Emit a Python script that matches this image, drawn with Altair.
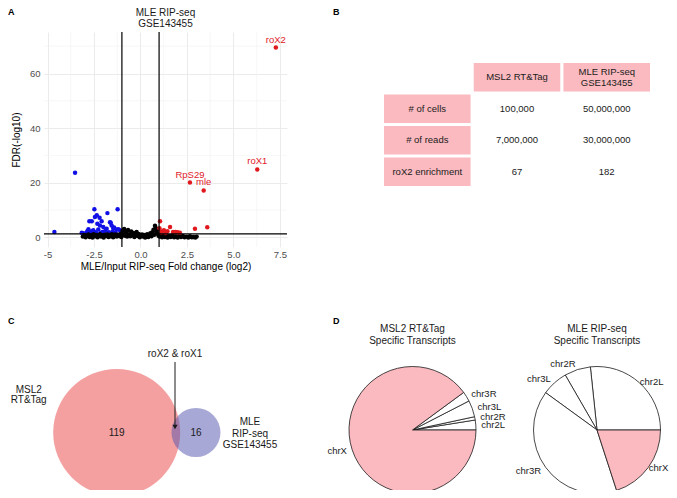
import math
import altair as alt
import pandas as pd

# ---------------- Panel A: volcano plot data ----------------
black_fc = [-3.10, -3.02, -2.95, -2.88, -2.80, -2.73, -2.66, -2.58, -2.52, -2.45,
            -2.38, -2.31, -2.25, -2.18, -2.12, -2.05, -1.98, -1.92, -1.85, -1.79,
            -1.72, -1.66, -1.60, -1.54, -1.47, -1.41, -1.35, -1.28, -1.22, -1.15,
            -1.09, -1.03, -0.97, -0.92, -0.88, -0.83, -0.78, -0.72, -0.67, -0.61,
            -0.55, -0.50, -0.44, -0.38, -0.33, -0.27, -0.21, -0.15, -0.10, -0.04,
            0.02, 0.08, 0.13, 0.19, 0.25, 0.31, 0.36, 0.42, 0.48, 0.53,
            0.59, 0.64, 0.70, 0.74, 0.78, 0.82, 0.86, 0.90, 0.94, 0.97,
            1.03, 1.09, 1.16, 1.23, 1.31, 1.38, 1.46, 1.55, 1.63, 1.72,
            1.81, 1.90, 2.00, 2.09, 2.18, 2.28, 2.37, 2.47, 2.57, 2.66,
            2.76, 2.85, 2.95, 3.02]
black_fdr = [0.3, 0.8, 0.1, 0.5, 1.1, 0.2, 0.7, 0.0, 1.2, 0.4,
             0.9, 0.1, 0.6, 1.2, 0.3, 0.8, 0.0, 1.0, 0.5, 1.1,
             0.2, 0.9, 0.4, 1.2, 0.1, 0.7, 1.1, 0.3, 1.0, 0.5,
             1.2, 0.2, 2.4, 1.1, 3.1, 0.6, 1.9, 0.3, 2.7, 1.2,
             0.4, 2.2, 0.9, 1.6, 0.2, 1.0, 2.0, 0.5, 1.3, 0.1,
             0.7, 1.1, 0.3, 0.9, 0.0, 0.6, 1.2, 0.2, 0.8, 1.5,
             0.4, 1.9, 2.8, 1.0, 4.3, 3.5, 2.2, 1.4, 3.0, 0.6,
             0.3, 0.9, 0.1, 0.6, 0.2, 0.8, 0.0, 0.5, 0.2, 0.7,
             0.1, 0.4, 0.0, 0.6, 0.2, 0.5, 0.1, 0.3, 0.0, 0.4,
             0.1, 0.2, 0.0, 0.3]
blue_fc = [-4.63, -3.52, -3.16, -3.08, -2.80, -2.75, -2.72, -2.62, -2.54, -2.48,
           -2.45, -2.35, -2.32, -2.27, -2.20, -2.18, -2.09, -2.05, -2.00, -1.90,
           -1.82, -1.78, -1.64, -1.60, -1.55, -1.50, -1.46, -1.42, -1.35, -1.28,
           -1.23, -1.19, -1.10, -1.05, -2.90, -2.65, -2.40, -2.15, -1.70, -2.60,
           -2.85]
blue_fdr = [2.0, 23.7, 1.7, 1.5, 3.0, 5.9, 2.1, 5.9, 2.6, 10.3,
            7.5, 8.1, 5.0, 2.9, 7.2, 4.4, 5.9, 2.0, 3.8, 2.4,
            3.2, 8.9, 5.6, 5.4, 4.4, 2.2, 3.4, 3.6, 1.8, 2.9,
            10.3, 3.0, 2.6, 1.6, 1.8, 1.6, 1.9, 1.6, 1.9, 2.3,
            2.4]
red_fc = [7.28, 6.28, 2.66, 3.40, 1.05, 1.59, 2.93, 3.59, 1.14, 1.26,
          1.12, 1.35, 1.75, 1.88, 2.00, 2.12, 1.45, 1.02]
red_fdr = [69.5, 24.9, 20.1, 17.2, 5.9, 3.8, 3.2, 3.7, 2.2, 2.6,
           1.8, 1.6, 2.0, 2.0, 1.9, 1.75, 2.3, 3.4]
red_labels = ["roX2", "roX1", "RpS29", "mle", "", "", "", "", "", "",
              "", "", "", "", "", "", "", ""]
scatter_title = ["MLE RIP-seq", "GSE143455"]
x_title = "MLE/Input RIP-seq Fold change (log2)"
y_title = "FDR(-log10)"
x_ticks = [-5, -2.5, 0, 2.5, 5, 7.5]
x_tick_labels = ["-5", "-2.5", "0.0", "2.5", "5.0", "7.5"]
x_minor = [-3.75, -1.25, 1.25, 3.75, 6.25]
y_ticks = [0, 20, 40, 60]
y_minor = [10, 30, 50, 70]
fc_cutoffs = [-1, 1]
fdr_cutoff = [1.3]

# ---------------- Panel B: table data ----------------
table_header = ["MSL2 RT&Tag", "MLE RIP-seq\nGSE143455"]
row_labels = ["# of cells", "# of reads", "roX2 enrichment"]
msl2_values = ["100,000", "7,000,000", "67"]
mle_values = ["50,000,000", "30,000,000", "182"]

# ---------------- Panel C: Venn data ----------------
venn_sets = ["MSL2\nRT&Tag", "MLE\nRIP-seq\nGSE143455"]
venn_unique = [119, 16]
venn_shared = 2
venn_shared_label = "roX2 & roX1"

# ---------------- Panel D: pie data ----------------
chroms = ["chr2L", "chr2R", "chr3L", "chr3R", "chrX"]
msl2_counts = [3, 1, 5, 3, 107]
mle_counts = [4, 1, 1, 6, 3]
pie_titles = ["MSL2 RT&Tag\nSpecific Transcripts", "MLE RIP-seq\nSpecific Transcripts"]

panel_letters = ["A", "B", "C", "D"]

PINK = "#FBBAC0"
RED = "#E0191F"
BLUE = "#1010E6"
INK = "#1A1A1A"


def letter(ch, x, y):
    return alt.Chart(pd.DataFrame({"t": [ch]})).mark_text(
        fontWeight="bold", fontSize=9, align="left", baseline="top", color="black"
    ).encode(text="t:N", x=alt.value(x), y=alt.value(y))


# layout (pixels)
COL1_W, COL2_W = 243, 323
ROW1_H, ROW2_H = 215, 124

# ================= Panel A =================
xs = alt.Scale(domain=[-5.19, 7.88], nice=False, zero=False)
ys = alt.Scale(domain=[-3.5, 75.2], nice=False, zero=False)
label_expr = "".join(
    f"datum.value == {v} ? '{l}' : " for v, l in zip(x_ticks, x_tick_labels)
) + "''"

black_df = pd.DataFrame({"fc": black_fc, "fdr": black_fdr})
blue_df = pd.DataFrame({"fc": blue_fc, "fdr": blue_fdr})
red_df = pd.DataFrame({"fc": red_fc, "fdr": red_fdr, "lab": red_labels})

x_axis = alt.Axis(values=x_ticks, labelExpr=label_expr, title=x_title, grid=True,
                  gridColor="#EBEBEB", gridWidth=1, domain=False, ticks=False,
                  labelColor="#4D4D4D", labelFontSize=9.5, labelPadding=2,
                  labelFlush=False, labelOverlap=False, titleFontSize=10,
                  titleFontWeight="normal", titleColor="black", titlePadding=3)
y_axis = alt.Axis(values=y_ticks, title=y_title, grid=True, gridColor="#EBEBEB",
                  gridWidth=1, domain=False, ticks=False, labelColor="#4D4D4D",
                  labelFontSize=9.5, labelPadding=4, labelFlush=False,
                  titleFontSize=10, titleFontWeight="normal", titleColor="black",
                  titlePadding=8)

blue_pts = alt.Chart(blue_df).mark_circle(size=20, opacity=1, color=BLUE).encode(
    x=alt.X("fc:Q", scale=xs, axis=x_axis),
    y=alt.Y("fdr:Q", scale=ys, axis=y_axis),
)
minor_x = alt.Chart(pd.DataFrame({"v": x_minor})).mark_rule(
    color="#F1F1F1", strokeWidth=0.6).encode(x=alt.X("v:Q", scale=xs))
minor_y = alt.Chart(pd.DataFrame({"v": y_minor})).mark_rule(
    color="#F1F1F1", strokeWidth=0.6).encode(y=alt.Y("v:Q", scale=ys))
black_pts = alt.Chart(black_df).mark_circle(size=20, opacity=1, color="black").encode(
    x=alt.X("fc:Q", scale=xs), y=alt.Y("fdr:Q", scale=ys))
red_pts = alt.Chart(red_df).mark_circle(size=20, opacity=1, color=RED).encode(
    x=alt.X("fc:Q", scale=xs), y=alt.Y("fdr:Q", scale=ys))
red_text = alt.Chart(red_df).transform_filter("datum.lab != ''").mark_text(
    color=RED, fontSize=9.5, dy=-8).encode(
    x=alt.X("fc:Q", scale=xs), y=alt.Y("fdr:Q", scale=ys), text="lab:N")
vlines = alt.Chart(pd.DataFrame({"v": fc_cutoffs})).mark_rule(
    color="black", strokeWidth=1.2).encode(x=alt.X("v:Q", scale=xs))
hline = alt.Chart(pd.DataFrame({"v": fdr_cutoff})).mark_rule(
    color="black", strokeWidth=1.2).encode(y=alt.Y("v:Q", scale=ys))
a_title = alt.Chart(pd.DataFrame({"t": ["\n".join(scatter_title)]})).mark_text(
    fontSize=10, lineBreak="\n", lineHeight=10.5, baseline="top", color=INK).encode(
    text="t:N", x=alt.value(COL1_W / 2), y=alt.value(-24))

panelA = alt.layer(minor_x, minor_y, blue_pts, black_pts, red_pts, vlines, hline,
                   red_text, a_title, letter(panel_letters[0], -36, -24)).properties(
    width=COL1_W, height=ROW1_H)

# ================= Panel B =================
col_keys = ["label", "c1", "c2"]
row_keys = ["hdr", "r1", "r2", "r3"]
cells = []
cells.append({"col": "c1", "row": "hdr", "txt": table_header[0], "pink": 1})
cells.append({"col": "c2", "row": "hdr", "txt": table_header[1], "pink": 1})
for rk, lab, v1, v2 in zip(row_keys[1:], row_labels, msl2_values, mle_values):
    cells.append({"col": "label", "row": rk, "txt": lab, "pink": 1})
    cells.append({"col": "c1", "row": rk, "txt": v1, "pink": 0})
    cells.append({"col": "c2", "row": rk, "txt": v2, "pink": 0})
table_df = pd.DataFrame(cells)
table_df["lines"] = table_df["txt"].str.count("\n") + 1
bx = alt.Scale(domain=col_keys, range=[38, 304], paddingInner=0.035, paddingOuter=0)
by = alt.Scale(domain=row_keys, range=[31, 154], paddingInner=0.1, paddingOuter=0)
t_rect = alt.Chart(table_df).transform_filter("datum.pink == 1").mark_rect(
    color=PINK).encode(x=alt.X("col:N", scale=bx, axis=None),
                       y=alt.Y("row:N", scale=by, axis=None))
t_text1 = alt.Chart(table_df).transform_filter("datum.lines == 1").mark_text(
    fontSize=9.5, color=INK).encode(
    x=alt.X("col:N", scale=bx, axis=None), y=alt.Y("row:N", scale=by, axis=None),
    text="txt:N")
t_text2 = alt.Chart(table_df).transform_filter("datum.lines == 2").mark_text(
    fontSize=9.5, lineBreak="\n", lineHeight=11, dy=-5.5, color=INK).encode(
    x=alt.X("col:N", scale=bx, axis=None), y=alt.Y("row:N", scale=by, axis=None),
    text="txt:N")
panelB = alt.layer(t_rect, t_text1, t_text2,
                   letter(panel_letters[1], -13, -24)).properties(
    width=COL2_W, height=ROW1_H)

# ================= Panel C =================
venn_df = pd.DataFrame({"set": venn_sets,
                        "total": [u + venn_shared for u in venn_unique],
                        "unique": venn_unique,
                        "idx": [0, 1]})
VENN_Y = 66.5
vx = alt.Scale(type="point", domain=venn_sets, range=[72.7, 152], padding=0)
# symbol size = area of the bounding square, i.e. (2r)^2
vsize = alt.Scale(domain=[0, max(venn_df["total"])], range=[0, (2 * 63.5) ** 2])
venn_fill = ["#E94141", "#5151AD"]
circ_layers = []
for i, col in enumerate(venn_fill):
    circ_layers.append(
        alt.Chart(venn_df).transform_filter(f"datum.idx == {i}").mark_circle(
            opacity=0.5, color=col, clip=True).encode(
            x=alt.X("set:N", scale=vx, axis=None), y=alt.value(VENN_Y),
            size=alt.Size("total:Q", scale=vsize, legend=None)))
counts_txt = alt.Chart(venn_df).mark_text(fontSize=10, color=INK).encode(
    x=alt.X("set:N", scale=vx, axis=None), y=alt.value(VENN_Y), text="unique:Q")
set_lab0 = alt.Chart(venn_df).transform_filter("datum.idx == 0").mark_text(
    fontSize=10, lineBreak="\n", lineHeight=10.5, dx=-88, color=INK).encode(
    x=alt.X("set:N", scale=vx, axis=None), y=alt.value(23.5), text="set:N")
set_lab1 = alt.Chart(venn_df).transform_filter("datum.idx == 1").mark_text(
    fontSize=10, lineBreak="\n", lineHeight=11.7, dx=54, color=INK).encode(
    x=alt.X("set:N", scale=vx, axis=None), y=alt.value(56), text="set:N")
shared_df = pd.DataFrame({"t": [venn_shared_label]})
shared_txt = alt.Chart(shared_df).mark_text(fontSize=10, color=INK).encode(
    text="t:N", x=alt.value(131), y=alt.value(-12))
arrow_line = alt.Chart(shared_df).mark_rule(color=INK, strokeWidth=1).encode(
    x=alt.value(131), y=alt.value(-4), y2=alt.value(60))
arrow_head = alt.Chart(shared_df).mark_point(shape="triangle-down", filled=True,
                                             size=28, color=INK, opacity=1).encode(
    x=alt.value(131), y=alt.value(61))
panelC = alt.layer(*circ_layers, counts_txt, set_lab0, set_lab1, shared_txt,
                   arrow_line, arrow_head,
                   letter(panel_letters[2], -36, -49)).properties(
    width=COL1_W, height=ROW2_H)

# ================= Panel D (two pies in one view) =================
pie_rows = []
for p, (title, counts) in enumerate(zip(pie_titles, [msl2_counts, mle_counts])):
    total = sum(counts)
    cum = 0
    for c, n in zip(chroms, counts):
        start = cum / total
        cum += n
        end = cum / total
        mid = (start + end) / 2
        side = "right" if math.cos(2 * math.pi * mid) >= 0 else "left"
        pie_rows.append(dict(pie=title, pidx=p, chrom=c, n=n, start=start, end=end,
                             mid=mid, side=side))
pie_df = pd.DataFrame(pie_rows)
PIE_Y = 64
ts = alt.Scale(domain=[0, 1], range=[2.5 * math.pi, 0.5 * math.pi])
px = alt.Scale(type="point", domain=pie_titles, range=[66.5, 251], padding=0)
pbase = alt.Chart(pie_df)
arcs_white = pbase.transform_filter("datum.chrom != 'chrX'").mark_arc(
    outerRadius=63.5, stroke=INK, strokeWidth=0.8, fill="white", clip=True).encode(
    x=alt.X("pie:N", scale=px, axis=None), y=alt.value(PIE_Y),
    theta=alt.Theta("start:Q", scale=ts), theta2="end:Q")
arcs_x = pbase.transform_filter("datum.chrom == 'chrX'").mark_arc(
    outerRadius=63.5, stroke=INK, strokeWidth=0.8, fill=PINK, clip=True).encode(
    x=alt.X("pie:N", scale=px, axis=None), y=alt.value(PIE_Y),
    theta=alt.Theta("start:Q", scale=ts), theta2="end:Q")
lab_r1 = pbase.transform_filter("datum.side == 'right' && datum.pidx == 0").mark_text(
    radius=69, align="left", fontSize=9.5, color=INK).encode(
    x=alt.X("pie:N", scale=px, axis=None), y=alt.value(PIE_Y),
    theta=alt.Theta("mid:Q", scale=ts), text="chrom:N")
lab_r2 = pbase.transform_filter("datum.side == 'right' && datum.pidx == 1").mark_text(
    radius=64, align="left", fontSize=9.5, color=INK).encode(
    x=alt.X("pie:N", scale=px, axis=None), y=alt.value(PIE_Y),
    theta=alt.Theta("mid:Q", scale=ts), text="chrom:N")
lab_l = pbase.transform_filter("datum.side == 'left'").mark_text(
    radius=69, align="right", fontSize=9.5, color=INK).encode(
    x=alt.X("pie:N", scale=px, axis=None), y=alt.value(PIE_Y),
    theta=alt.Theta("mid:Q", scale=ts), text="chrom:N")
pie_ttl = alt.Chart(pd.DataFrame({"pie": pie_titles})).mark_text(
    fontSize=10, lineBreak="\n", lineHeight=12, color=INK).encode(
    x=alt.X("pie:N", scale=px, axis=None), text="pie:N", y=alt.value(-37))
panelD = alt.layer(arcs_white, arcs_x, lab_r1, lab_r2, lab_l, pie_ttl,
                   letter(panel_letters[3], -13, -49)).properties(
    width=COL2_W, height=ROW2_H)

chart = alt.concat(panelA, panelB, panelC, panelD, columns=2, align="each",
                   bounds="flush", spacing={"row": 119, "column": 59}).properties(
    padding=0
).configure(font="Liberation Sans").configure_view(stroke=None)

chart.save("out.html", embed_options={"renderer": "svg", "actions": False})
